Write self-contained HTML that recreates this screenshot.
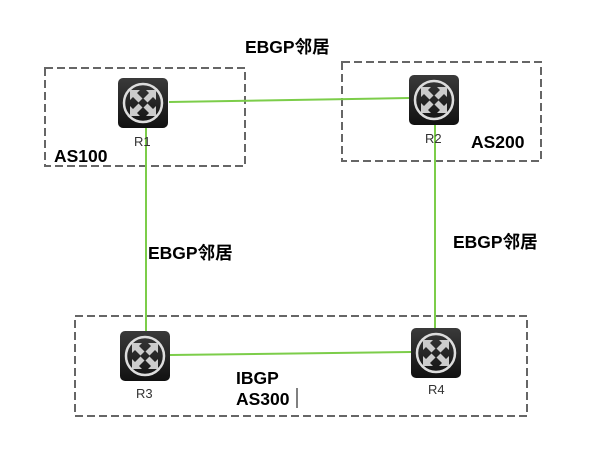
<!DOCTYPE html>
<html><head><meta charset="utf-8"><style>
html,body{margin:0;padding:0;background:#fff;}
svg{display:block;}
.b{font-family:"Liberation Sans","Noto Sans CJK SC",sans-serif;font-weight:bold;font-size:17.5px;fill:#000;}
.s{font-family:"Liberation Sans",sans-serif;font-size:13px;fill:#333;}
</style></head><body>
<svg width="605" height="462" viewBox="0 0 605 462" xmlns="http://www.w3.org/2000/svg">
<defs>
<linearGradient id="g" x1="0" y1="0" x2="0" y2="1">
<stop offset="0" stop-color="#3a3a3a"/><stop offset="1" stop-color="#111"/>
</linearGradient>
<g id="r">
<rect x="-25" y="-25" width="50" height="50" rx="5" fill="url(#g)"/>
<circle r="19" fill="none" stroke="#ddd" stroke-width="2.5"/>
<g fill="#ccc">
<g id="a"><path d="M-13,-13 L-3,-13 L-6,-10 L-0.5,-4.5 L-4.5,-0.5 L-10,-6 L-13,-3 Z"/></g>
<use href="#a" transform="rotate(90)"/>
<use href="#a" transform="rotate(180)"/>
<use href="#a" transform="rotate(270)"/>
</g>
</g>
</defs>
<g fill="none" stroke="#666" stroke-width="2" stroke-dasharray="8,4">
<rect x="45" y="68" width="200" height="98"/>
<rect x="342" y="62" width="199" height="99"/>
<rect x="75" y="316" width="452" height="100"/>
</g>
<g stroke="#7ccd4a" stroke-width="2">
<line x1="169" y1="102" x2="409" y2="98"/>
<line x1="146" y1="128" x2="146" y2="331"/>
<line x1="435" y1="125" x2="435" y2="328"/>
<line x1="170" y1="355" x2="411" y2="352"/>
</g>
<use href="#r" x="143" y="103"/>
<use href="#r" x="434" y="100"/>
<use href="#r" x="145" y="356"/>
<use href="#r" x="436" y="353"/>
<text class="s" x="134" y="146">R1</text>
<text class="s" x="425" y="143">R2</text>
<text class="s" x="136" y="398">R3</text>
<text class="s" x="428" y="394">R4</text>
<text class="b" x="245" y="53">EBGP邻居</text>
<text class="b" x="54" y="162">AS100</text>
<text class="b" x="471" y="148">AS200</text>
<text class="b" x="148" y="259">EBGP邻居</text>
<text class="b" x="453" y="248">EBGP邻居</text>
<text class="b" x="236" y="384">IBGP</text>
<text class="b" x="236" y="405">AS300</text>
<line x1="297" y1="388" x2="297" y2="408" stroke="#000" stroke-width="1"/>
</svg>
</body></html>
